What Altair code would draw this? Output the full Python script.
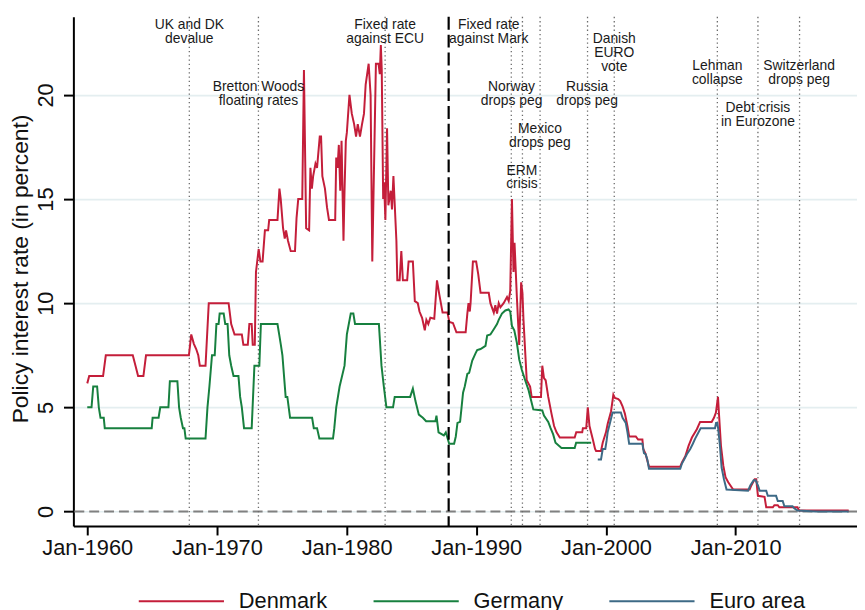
import pandas as pd
import altair as alt

FONT = "Liberation Sans"

# ---------- data ----------

series_names = ["Denmark", "Germany", "Euro area"]
series_colors = ["#c41e3a", "#17803f", "#3d6a86"]

# (year, policy rate in percent)
dk_points = [
    (1960.0, 6.15), (1960.15, 6.5), (1961.22, 6.5), (1961.43, 7.5), (1963.51, 7.5),
    (1963.72, 7.0), (1963.92, 6.5), (1964.33, 6.5), (1964.53, 7.5), (1967.84, 7.5),
    (1968.02, 8.5), (1968.22, 8.05), (1968.4, 7.8), (1968.56, 7.5), (1968.68, 7.0),
    (1969.12, 7.0), (1969.37, 10.0), (1970.9, 10.0), (1971.1, 9.0), (1971.36, 8.5),
    (1971.92, 8.5), (1972.04, 8.0), (1972.38, 8.0), (1972.5, 9.0), (1972.68, 9.0),
    (1972.76, 8.0), (1972.92, 8.0), (1973.01, 11.5), (1973.22, 12.6), (1973.35, 12.0),
    (1973.52, 12.0), (1973.7, 13.5), (1973.95, 13.5), (1974.03, 14.0), (1974.67, 14.0),
    (1974.82, 15.5), (1974.92, 15.0), (1975.1, 13.6), (1975.23, 13.1), (1975.33, 13.5),
    (1975.48, 13.0), (1975.69, 12.5), (1976.02, 12.5), (1976.14, 14.1), (1976.27, 15.0),
    (1976.58, 15.0), (1976.71, 21.2), (1976.88, 13.6), (1977.11, 13.5), (1977.21, 16.5),
    (1977.32, 15.5), (1977.42, 16.1), (1977.6, 16.7), (1977.72, 16.5), (1977.93, 18.0),
    (1978.03, 18.0), (1978.13, 16.1), (1978.33, 15.5), (1978.49, 14.6), (1978.64, 14.0),
    (1979.12, 14.0), (1979.2, 17.0), (1979.3, 16.5), (1979.4, 17.6), (1979.51, 15.4),
    (1979.61, 17.8), (1979.76, 13.0), (1979.84, 15.4), (1979.94, 17.8), (1980.02, 18.2),
    (1980.22, 20.0), (1980.4, 19.1), (1980.58, 18.6), (1980.73, 18.0), (1980.86, 18.6),
    (1981.03, 18.0), (1981.19, 18.6), (1981.34, 19.1), (1981.47, 20.5), (1981.7, 21.5),
    (1981.85, 20.0), (1981.98, 12.0), (1982.26, 21.5), (1982.46, 21.5), (1982.56, 21.0),
    (1982.64, 22.4), (1982.71, 21.2), (1982.82, 15.0), (1982.89, 15.8), (1982.99, 14.0),
    (1983.12, 18.4), (1983.22, 14.7), (1983.4, 15.4), (1983.5, 14.5), (1983.61, 16.1),
    (1983.84, 13.0), (1983.91, 11.1), (1984.09, 11.1), (1984.22, 12.5), (1984.34, 11.1),
    (1984.67, 11.1), (1984.78, 12.0), (1985.11, 12.0), (1985.26, 10.1), (1985.49, 10.0),
    (1985.62, 9.6), (1985.82, 9.3), (1986.03, 8.7), (1986.15, 9.2), (1986.3, 9.0),
    (1986.46, 9.3), (1986.76, 9.25), (1986.97, 11.1), (1987.14, 10.45), (1987.27, 10.0),
    (1987.4, 9.55), (1987.78, 9.55), (1987.92, 9.1), (1988.2, 9.05), (1988.47, 8.6),
    (1989.18, 8.6), (1989.31, 9.5), (1989.4, 10.0), (1989.5, 9.6), (1989.56, 10.0),
    (1989.74, 12.0), (1989.99, 12.0), (1990.15, 11.4), (1990.33, 10.5), (1990.96, 10.5),
    (1991.09, 10.0), (1991.35, 9.55), (1991.47, 9.9), (1991.6, 9.5), (1991.73, 10.0),
    (1991.86, 9.8), (1992.11, 10.0), (1992.37, 10.3), (1992.5, 10.1), (1992.62, 10.6),
    (1992.75, 15.0), (1992.87, 11.5), (1992.95, 12.9), (1993.13, 10.3), (1993.31, 8.0),
    (1993.46, 11.0), (1993.56, 10.5), (1993.64, 9.2), (1993.89, 6.3), (1994.15, 6.0),
    (1994.27, 5.5), (1994.99, 5.5), (1995.09, 7.0), (1995.22, 6.4), (1995.35, 6.3),
    (1995.55, 5.5), (1995.8, 4.7), (1996.0, 4.1), (1996.19, 3.8), (1996.44, 3.55),
    (1997.59, 3.55), (1997.71, 3.8), (1998.17, 3.8), (1998.22, 4.0), (1998.48, 4.0),
    (1998.6, 5.0), (1998.73, 4.1), (1998.99, 3.45), (1999.16, 3.0), (1999.24, 2.9),
    (1999.62, 2.9), (1999.75, 3.3), (2000.0, 3.8), (2000.13, 4.2), (2000.39, 4.8),
    (2000.57, 5.6), (2000.69, 5.45), (2000.95, 5.4), (2001.1, 5.3), (2001.28, 5.05),
    (2001.46, 4.7), (2001.66, 4.1), (2001.79, 3.6), (2002.3, 3.6), (2002.48, 3.45),
    (2002.81, 3.45), (2002.88, 3.0), (2003.06, 2.75), (2003.32, 2.15), (2005.73, 2.15),
    (2005.86, 2.35), (2006.12, 2.65), (2006.37, 3.15), (2006.63, 3.55), (2007.01, 3.95),
    (2007.26, 4.3), (2008.15, 4.3), (2008.33, 4.5), (2008.48, 4.75), (2008.64, 5.5),
    (2008.71, 4.75), (2008.87, 3.15), (2009.05, 2.2), (2009.22, 1.65), (2009.43, 1.4),
    (2009.81, 1.05), (2011.08, 1.05), (2011.21, 1.25), (2011.47, 1.55), (2011.59, 1.55),
    (2011.72, 0.75), (2012.23, 0.7), (2012.36, 0.2), (2012.87, 0.2), (2012.99, 0.3),
    (2013.25, 0.3), (2013.37, 0.2), (2014.77, 0.2), (2014.9, 0.05), (2018.72, 0.05),
]

de_points = [
    (1960.0, 5.0), (1960.33, 5.0), (1960.46, 6.0), (1960.76, 6.0), (1960.89, 5.0),
    (1961.02, 4.5), (1961.27, 4.5), (1961.35, 4.0), (1964.97, 4.0), (1965.04, 4.5),
    (1965.5, 4.5), (1965.63, 5.0), (1966.26, 5.0), (1966.37, 6.25), (1966.95, 6.25),
    (1967.08, 5.0), (1967.21, 4.5), (1967.38, 4.0), (1967.49, 4.0), (1967.59, 3.5),
    (1969.12, 3.5), (1969.27, 5.0), (1969.42, 6.0), (1969.62, 7.5), (1969.83, 7.5),
    (1969.96, 9.0), (1970.13, 9.0), (1970.21, 9.5), (1970.52, 9.5), (1970.64, 9.0),
    (1970.82, 9.0), (1970.95, 7.5), (1971.1, 7.0), (1971.28, 6.5), (1971.66, 6.5),
    (1971.79, 5.5), (1971.92, 5.0), (1972.09, 4.0), (1972.68, 4.0), (1972.89, 7.0),
    (1973.27, 7.0), (1973.39, 9.0), (1974.67, 9.0), (1974.8, 8.5), (1974.93, 8.0),
    (1975.05, 7.5), (1975.3, 5.5), (1975.43, 5.5), (1975.64, 4.5), (1977.34, 4.5),
    (1977.47, 4.0), (1977.72, 4.0), (1977.9, 3.5), (1978.95, 3.5), (1979.05, 4.0),
    (1979.2, 5.0), (1979.46, 6.0), (1979.84, 7.0), (1980.02, 8.5), (1980.32, 9.5),
    (1980.52, 9.5), (1980.65, 9.0), (1982.49, 9.0), (1982.69, 7.0), (1982.87, 6.0),
    (1983.07, 5.0), (1983.58, 5.0), (1983.71, 5.5), (1984.9, 5.5), (1985.11, 5.9),
    (1985.31, 5.3), (1985.57, 4.65), (1985.88, 4.5), (1986.13, 4.33), (1986.85, 4.33),
    (1986.93, 4.6), (1987.09, 3.8), (1987.5, 3.65), (1987.65, 3.8), (1987.91, 3.25),
    (1988.29, 3.25), (1988.42, 3.6), (1988.55, 4.25), (1988.75, 4.3), (1988.85, 4.9),
    (1988.98, 5.7), (1989.11, 6.0), (1989.31, 6.6), (1989.45, 6.65), (1989.69, 7.25),
    (1989.95, 7.6), (1990.07, 7.75), (1990.33, 7.8), (1990.71, 7.95), (1990.84, 8.45),
    (1991.09, 8.5), (1991.35, 8.75), (1991.6, 9.0), (1991.73, 9.2), (1991.98, 9.5),
    (1992.24, 9.65), (1992.49, 9.7), (1992.62, 9.6), (1992.75, 8.9), (1992.93, 8.7),
    (1993.13, 8.1), (1993.31, 7.3), (1993.51, 6.8), (1993.77, 6.3), (1994.02, 5.85),
    (1994.2, 5.4), (1994.4, 4.9), (1995.09, 4.85), (1995.22, 4.6), (1995.55, 4.3),
    (1995.73, 4.0), (1995.93, 3.7), (1996.11, 3.3), (1996.57, 3.05), (1997.59, 3.05),
    (1997.7, 3.3), (1998.86, 3.3),
]

ea_points = [
    (1999.37, 2.5), (1999.62, 2.5), (1999.75, 3.0), (1999.95, 3.0), (2000.05, 3.4),
    (2000.13, 3.8), (2000.31, 4.25), (2000.51, 4.75), (2001.15, 4.75), (2001.28, 4.5),
    (2001.53, 4.25), (2001.66, 3.8), (2001.79, 3.25), (2002.81, 3.25), (2002.93, 2.8),
    (2003.06, 2.75), (2003.19, 2.5), (2003.32, 2.05), (2005.73, 2.05), (2005.86, 2.3),
    (2006.04, 2.5), (2006.24, 2.75), (2006.5, 3.0), (2006.7, 3.25), (2006.88, 3.5),
    (2007.14, 3.8), (2007.31, 4.0), (2008.41, 4.0), (2008.49, 4.25), (2008.59, 4.25),
    (2008.66, 3.95), (2008.79, 3.15), (2008.92, 2.1), (2009.1, 1.55), (2009.3, 1.05),
    (2010.96, 1.0), (2011.13, 1.25), (2011.39, 1.5), (2011.54, 1.5), (2011.72, 1.25),
    (2011.85, 1.0), (2012.36, 1.0), (2012.48, 0.75), (2013.12, 0.75), (2013.25, 0.5),
    (2013.63, 0.5), (2013.76, 0.25), (2014.39, 0.25), (2014.52, 0.15), (2014.77, 0.05),
    (2016.2, 0.0), (2018.72, 0.0),
]

# dotted event lines and the dashed peg line
event_years = [1967.87, 1973.2, 1982.97, 1992.7, 1993.56, 1994.92,
               1998.58, 2000.64, 2008.59, 2011.72, 2014.93]
peg_years = [1987.87]

# annotation texts, their centre year and the level of their top edge (percent)
label_texts = [
    "UK and DK\ndevalue", "Bretton Woods\nfloating rates", "Fixed rate\nagainst ECU",
    "Fixed rate\nagainst Mark", "Norway\ndrops peg", "ERM\ncrisis", "Mexico\ndrops peg",
    "Russia\ndrops peg", "Danish\nEURO\nvote", "Lehman\ncollapse",
    "Debt crisis\nin Eurozone", "Switzerland\ndrops peg",
]
label_years = [1967.87, 1973.2, 1982.97, 1990.96, 1992.72, 1993.52,
               1994.91, 1998.55, 2000.64, 2008.59, 2011.72, 2014.9]
label_levels = [23.7, 20.7, 23.7, 23.7, 20.7, 16.7, 18.7, 20.7, 23.0, 21.7, 19.7, 21.7]

x_ticks = [1960, 1970, 1980, 1990, 2000, 2010]
y_ticks = [0, 5, 10, 15, 20]
x_domain = [1958.93, 2019.36]
y_domain = [-0.7, 23.75]
y_title = "Policy interest rate (in percent)"

# ---------- tables ----------

rows = []
for name, pts in zip(series_names, [dk_points, de_points, ea_points]):
    for yr, r in pts:
        rows.append({"year": yr, "rate": r, "series": name})
rates = pd.DataFrame(rows)

events = pd.DataFrame({"year": event_years})
pegs = pd.DataFrame({"year": peg_years})
zero = pd.DataFrame({"rate": [0]})
labels = pd.DataFrame({"year": label_years, "rate": label_levels, "text": label_texts})

x_scale = alt.Scale(domain=x_domain, nice=False, zero=False)
y_scale = alt.Scale(domain=y_domain, nice=False, zero=False)

x_axis = alt.Axis(values=x_ticks, labelExpr="'Jan-' + datum.value", title=None,
                  grid=False, tickSize=9, labelPadding=3)
y_axis = alt.Axis(values=y_ticks, title=y_title, labelAngle=270, labelAlign="center",
                  labelBaseline="bottom", tickSize=10, labelPadding=6, grid=True,
                  gridColor="#e4eef0", gridWidth=1.6, titleFontSize=23,
                  titleX=-41, titleY=254, titleBaseline="bottom")

X = alt.X("year:Q", scale=x_scale, axis=x_axis)
Y = alt.Y("rate:Q", scale=y_scale, axis=y_axis)

# ---------- layers ----------

zero_line = alt.Chart(zero).mark_rule(
    color="#808080", strokeWidth=2, strokeDash=[10, 5]
).encode(y=Y)

event_lines = alt.Chart(events).mark_rule(
    color="#6b6b6b", strokeWidth=1.3, strokeDash=[1.3, 3]
).encode(x=X)

lines = alt.Chart(rates).mark_line(strokeWidth=2).encode(
    x=X,
    y=Y,
    color=alt.Color(
        "series:N",
        scale=alt.Scale(domain=series_names, range=series_colors),
        legend=alt.Legend(
            orient="none", legendX=65, legendY=546, direction="horizontal", title=None,
            symbolType="stroke", symbolSize=7396, symbolStrokeWidth=2,
            labelFontSize=22, labelFont=FONT, labelColor="#111111", labelOffset=14,
            columnPadding=42, padding=0,
        ),
    ),
)

peg_line = alt.Chart(pegs).mark_rule(
    color="#000000", strokeWidth=2.2, strokeDash=[13, 5]
).encode(x=X)

notes = alt.Chart(labels).mark_text(
    lineBreak="\n", baseline="top", align="center", fontSize=14, lineHeight=14,
    font=FONT, color="#1a1a1a",
).encode(x=X, y=Y, text="text:N")

chart = (
    alt.layer(zero_line, event_lines, lines, peg_line, notes)
    .properties(
        width=791,
        height=514,
        padding={"left": 66, "top": 6, "right": 0, "bottom": 100},
        autosize=alt.AutoSizeParams(type="none"),
    )
    .configure_view(stroke=None)
    .configure_axis(
        domainColor="#000000", domainWidth=2, tickColor="#000000", tickWidth=2,
        labelFont=FONT, titleFont=FONT, labelFontSize=22, titleFontSize=22,
        titleFontWeight="normal", labelColor="#111111", titleColor="#111111",
    )
)

chart.save("out.html", embed_options={"renderer": "svg", "actions": False})
